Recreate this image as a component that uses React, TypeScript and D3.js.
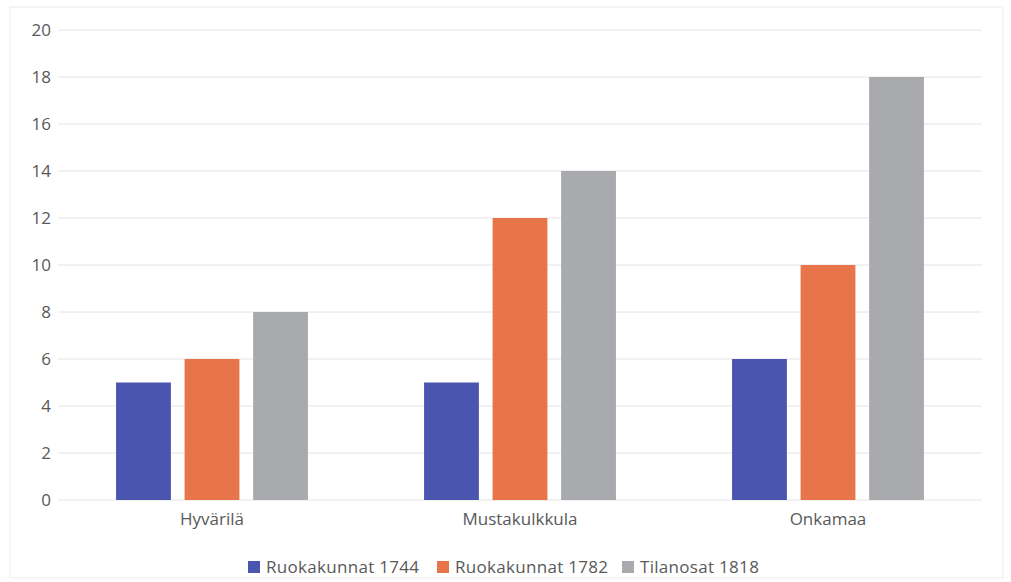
import React from 'react'
import * as d3 from 'd3'

const WIDTH = 1011
const HEIGHT = 582
const MARGIN = { top: 30, right: 29, bottom: 82, left: 58 }

const categories = ['Hyvärilä', 'Mustakulkkula', 'Onkamaa']
const seriesNames = ['Ruokakunnat 1744', 'Ruokakunnat 1782', 'Tilanosat 1818']
const ruokakunnat1744 = [5, 5, 6]
const ruokakunnat1782 = [6, 12, 10]
const tilanosat1818 = [8, 14, 18]
const yTicks = [0, 2, 4, 6, 8, 10, 12, 14, 16, 18, 20]

const colors = ['#4a55b0', '#e8744a', '#a9aaae']
const FONT = '"Open Sans", "Noto Sans", sans-serif'

const App = () => {
  const series = [ruokakunnat1744, ruokakunnat1782, tilanosat1818]
  const plotBottom = HEIGHT - MARGIN.bottom

  const x0 = d3
    .scaleBand()
    .domain(categories)
    .range([MARGIN.left, WIDTH - MARGIN.right])
    .paddingInner(0.377)
    .paddingOuter(0.1885)

  const x1 = d3
    .scaleBand()
    .domain(seriesNames)
    .range([0, x0.bandwidth()])
    .paddingInner(0.2)

  const y = d3.scaleLinear().domain([0, 20]).range([plotBottom, MARGIN.top])

  // legend layout
  const legendY = 567
  const legendItems = [
    { x: 248, name: seriesNames[0] },
    { x: 437, name: seriesNames[1] },
    { x: 622, name: seriesNames[2] }
  ]

  return (
    <svg
      width={WIDTH}
      height={HEIGHT}
      style={{ position: 'absolute', left: 0, top: 0, background: '#fff' }}
    >
      <rect x={10} y={7} width={993} height={571} fill="none" stroke="#ececec" />
      {yTicks.map(t => (
        <g key={t}>
          <line
            x1={MARGIN.left}
            x2={WIDTH - MARGIN.right}
            y1={y(t)}
            y2={y(t)}
            stroke="#e4e4e4"
            strokeWidth={1}
          />
          <text
            x={51}
            y={y(t)}
            dy="0.35em"
            textAnchor="end"
            fontFamily={FONT}
            fontSize={17}
            fill="#595959"
          >
            {t}
          </text>
        </g>
      ))}
      {categories.map((c, i) => (
        <g key={c} transform={`translate(${x0(c)},0)`}>
          {series.map((s, j) => (
            <rect
              key={j}
              x={x1(seriesNames[j])}
              y={y(s[i])}
              width={x1.bandwidth()}
              height={y(0) - y(s[i])}
              fill={colors[j]}
            />
          ))}
          <text
            x={x0.bandwidth() / 2}
            y={plotBottom + 25}
            textAnchor="middle"
            fontFamily={FONT}
            fontSize={17}
            fill="#595959"
          >
            {c}
          </text>
        </g>
      ))}
      {legendItems.map((item, j) => (
        <g key={item.name}>
          <rect x={item.x} y={legendY - 6} width={12} height={12} fill={colors[j]} />
          <text
            x={item.x + 18}
            y={legendY}
            dy="0.35em"
            fontFamily={FONT}
            fontSize={17}
            letterSpacing={0.3}
            fill="#595959"
          >
            {item.name}
          </text>
        </g>
      ))}
    </svg>
  )
}

export default App
